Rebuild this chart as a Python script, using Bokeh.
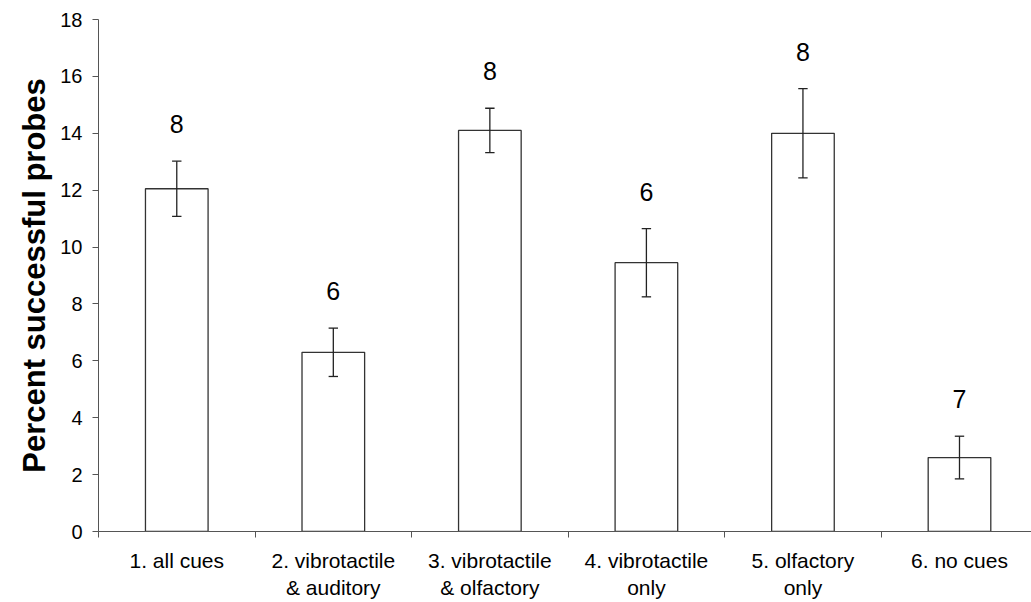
from bokeh.plotting import figure
from bokeh.models import Range1d, FixedTicker, ColumnDataSource
from bokeh.core.properties import value
from bokeh.embed import file_html
from bokeh.resources import INLINE

categories = ["1. all cues", "2. vibrotactile\n& auditory", "3. vibrotactile\n& olfactory",
              "4. vibrotactile\nonly", "5. olfactory\nonly", "6. no cues"]
means = [12.05, 6.3, 14.1, 9.45, 14.0, 2.6]
errors = [0.97, 0.85, 0.78, 1.2, 1.57, 0.75]
n_counts = [8, 6, 8, 6, 8, 7]
y_ticks = [0, 2, 4, 6, 8, 10, 12, 14, 16, 18]

FONT = "Liberation Sans"
CAP = 0.03  # half-width of error-bar caps in category units

centers = [i + 0.5 for i in range(len(categories))]
upper = [m + e for m, e in zip(means, errors)]
lower = [m - e for m, e in zip(means, errors)]
label_y = [u + 1.3 for u in upper]

src = ColumnDataSource(dict(x=centers, top=means, upper=upper, lower=lower,
                            x0=[c - CAP for c in centers], x1=[c + CAP for c in centers],
                            ly=label_y, n=[str(v) for v in n_counts]))

p = figure(width=1031, height=602, output_backend="svg", toolbar_location=None,
           x_range=Range1d(0, 5.96), y_range=Range1d(0, 18),
           min_border_left=98, min_border_right=0, min_border_top=19, min_border_bottom=71)
p.outline_line_color = None
p.xgrid.visible = False
p.ygrid.visible = False
p.background_fill_color = "white"
p.border_fill_color = "white"

p.vbar(x="x", top="top", width=0.4, source=src, fill_color="white",
       line_color="#333333", line_width=1.3)

# error bars: stem and caps
p.segment(x0="x", y0="lower", x1="x", y1="upper", source=src, line_color="#222222", line_width=1.3)
p.segment(x0="x0", y0="upper", x1="x1", y1="upper", source=src, line_color="#222222", line_width=1.3)
p.segment(x0="x0", y0="lower", x1="x1", y1="lower", source=src, line_color="#222222", line_width=1.3)

p.text(x="x", y="ly", text="n", source=src, text_align="center", text_baseline="middle",
       text_font=value(FONT), text_font_size="25px", text_color="black")

# y axis
p.yaxis.ticker = FixedTicker(ticks=y_ticks)
p.yaxis.major_tick_out = 6
p.yaxis.major_tick_in = 0
p.yaxis.minor_tick_out = 0
p.yaxis.minor_tick_in = 0
p.yaxis.major_label_standoff = 10
p.yaxis.major_label_text_font = FONT
p.yaxis.major_label_text_font_size = "20px"
p.yaxis.major_label_text_color = "black"
p.yaxis.axis_line_color = "#555555"
p.yaxis.major_tick_line_color = "#555555"
p.yaxis.axis_label = "Percent successful probes"
p.yaxis.axis_label_text_font = FONT
p.yaxis.axis_label_text_font_style = "bold"
p.yaxis.axis_label_text_font_size = "31px"
p.yaxis.axis_label_text_color = "black"
p.yaxis.axis_label_standoff = 5

# x axis
p.xaxis.ticker = FixedTicker(ticks=centers, minor_ticks=list(range(len(categories) + 1)))
p.xaxis.major_label_overrides = {c: lab for c, lab in zip(centers, categories)}
p.xaxis.major_tick_out = 0
p.xaxis.major_tick_in = 0
p.xaxis.minor_tick_out = 6
p.xaxis.minor_tick_in = 0
p.xaxis.major_label_standoff = 11
p.xaxis.major_label_text_font = FONT
p.xaxis.major_label_text_font_size = "21px"
p.xaxis.major_label_text_color = "black"
p.xaxis.axis_line_color = "#555555"
p.xaxis.minor_tick_line_color = "#555555"

open("out.html", "w").write(file_html(p, INLINE))
